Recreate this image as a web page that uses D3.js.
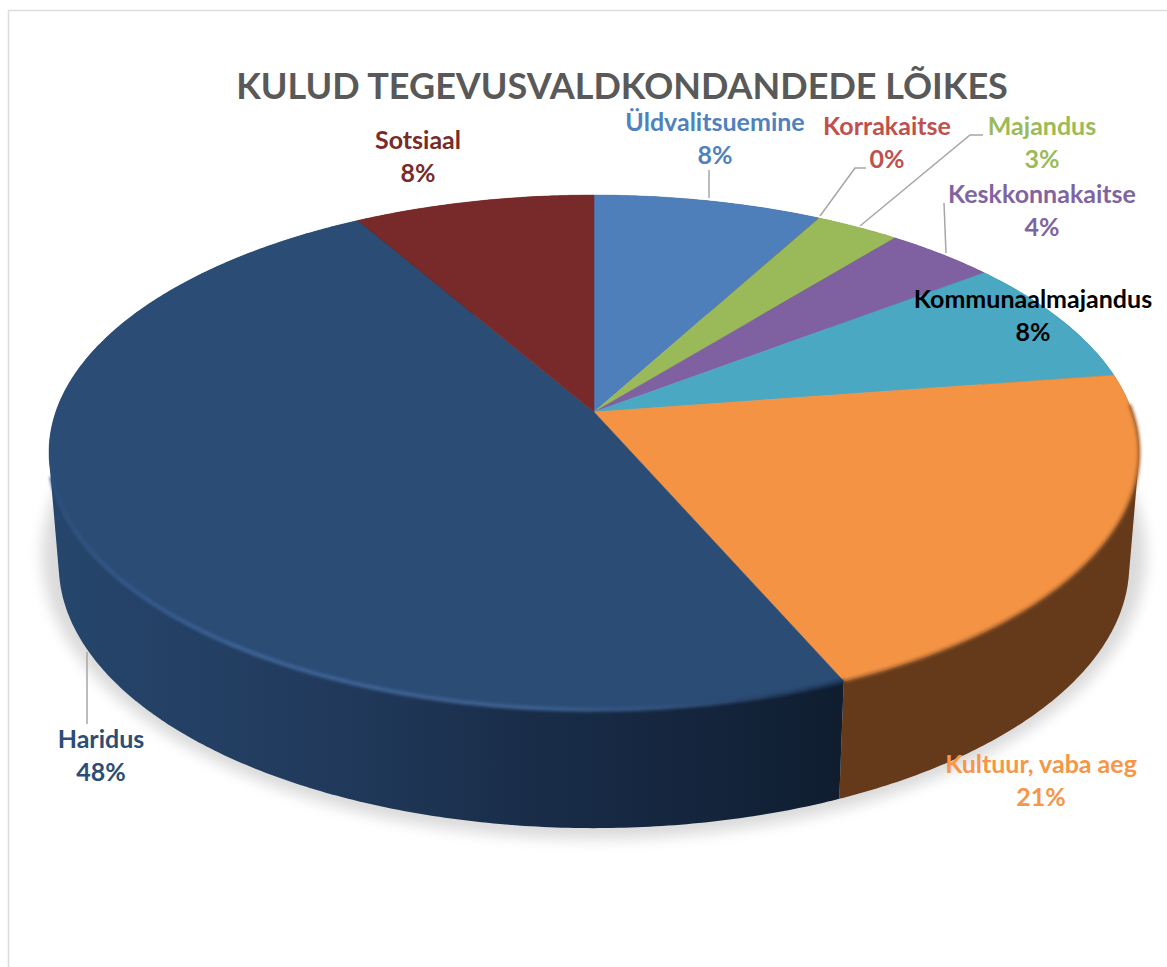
<!DOCTYPE html>
<html>
<head>
<meta charset="utf-8">
<script src="https://cdn.jsdelivr.net/npm/d3@7"></script>
<style>
html,body{margin:0;padding:0;background:#fff;overflow:hidden}
svg{display:block}
text{font-family:Lato,"Open Sans",sans-serif;font-weight:700}
</style>
</head>
<body>
<svg id="c" width="1167" height="967"></svg>
<script>
// data
const categories = ["Üldvalitsuemine","Korrakaitse","Majandus","Keskkonnakaitse","Kommunaalmajandus","Kultuur, vaba aeg","Haridus","Sotsiaal"];
const values = [7.88,0.02,2.9,3.8,8.0,20.9,48.2,8.3];
const percentLabels = ["8%","0%","3%","4%","8%","21%","48%","8%"];
const titleText = "KULUD TEGEVUSVALDKONDANDEDE LÕIKES";

// styles
const faceColors = ["#4e7fba","#c0504d","#9aba59","#7f60a0","#4aa8c3","#f39343","#2b4c75","#772a29"];
const sideColors = ["#2f4d70","#73302e","#5d7035","#4c3a60","#2c6575","#643a1a","#1f3555","#471a19"];
const labelColors = ["#4f81bd","#c0504d","#9bbb59","#8064a2","#000000","#f79646","#2c4d75","#772c2a"];
const labelX = [715,887,1042,1042,1033,1041,101,418];
const labelY = [131,135,135,203,308,773,748,149];
const lineGap = 33;
const leaders = [
  [[709,198],[709,170]],
  [[820,216],[855,168],[866,168]],
  [[860,226],[970,135],[983,135]],
  [[946,253],[944,203]],
  null,null,
  [[87,652],[87,724]],
  null
];

const svg = d3.select("#c");
const defs = svg.append("defs");
function blur(id,s){
  defs.append("filter").attr("id",id).attr("x","-10%").attr("y","-10%").attr("width","120%").attr("height","120%")
    .append("feGaussianBlur").attr("stdDeviation",s);
}
blur("b8",7); blur("b2",1.6);
function grad(id,stops){
  const g = defs.append("linearGradient").attr("id",id).attr("gradientUnits","userSpaceOnUse")
    .attr("x1",48).attr("x2",850).attr("y1",0).attr("y2",0);
  stops.forEach(s=>g.append("stop").attr("offset",s[0]).attr("stop-color",s[1]));
}
grad("navySide",[[0,"#26466c"],[0.35,"#213a5c"],[0.6,"#192d49"],[0.85,"#13233a"],[1,"#0f1d2e"]]);
grad("navyRim",[[0,"#2c4f7c"],[0.1,"#34588a"],[0.25,"#3d6497"],[0.6,"#3c6190"],[0.8,"#2e4e78"],[1,"#1a3250"]]);

// frame
svg.append("path").attr("d",d3.line()([[8.5,967],[8.5,10.5],[1167,10.5]]))
  .attr("fill","none").attr("stroke","#dcdcdc").attr("stroke-width",1.5);

// perspective projection of the pie disc
const k = 0.157;
const top0 = {x:d3.scaleLinear().domain([-1,1]).range([594-538.2,594+538.2]),
              y:d3.scaleLinear().domain([-1,1]).range([412-251,412+251])};
const bot0 = {x:d3.scaleLinear().domain([-1,1]).range([594-528.6,594+528.6]),
              y:d3.scaleLinear().domain([-1,1]).range([523.5-256.8,523.5+256.8])};
function proj(level,a){
  const X=Math.sin(a), Y=-Math.cos(a), w=1-k*Y;
  return [level.x(X/w), level.y(Y/w)];
}
function arcPts(level,a0,a1){
  const n=Math.max(2,Math.ceil((a1-a0)/0.01));
  return d3.range(n+1).map(i=>proj(level,a0+(a1-a0)*i/n));
}
const apex=[top0.x(0),top0.y(0)];
const line=d3.line();
const pie=d3.pie().sort(null).value(d=>d)(values);

// shadow
svg.append("ellipse").attr("cx",594).attr("cy",555).attr("rx",552).attr("ry",284)
  .attr("fill","#dadada").attr("filter","url(#b8)");

// sides
const order=d3.range(pie.length).sort((a,b)=>(a===6?1:0)-(b===6?1:0));
svg.append("g").selectAll("path").data(order).join("path")
  .attr("d",i=>{
    const p=pie[i];
    const hull=d3.polygonHull(arcPts(top0,p.startAngle,p.endAngle).concat(arcPts(bot0,p.startAngle,p.endAngle)));
    return line(hull)+"Z";
  })
  .attr("fill",i=>i===6?"url(#navySide)":sideColors[i]);

// top face
svg.append("g").selectAll("path").data(pie).join("path")
  .attr("d",p=>line([apex].concat(arcPts(top0,p.startAngle,p.endAngle)))+"Z")
  .attr("fill",(p,i)=>faceColors[i])
  .attr("stroke",(p,i)=>p.value<0.5?"none":faceColors[i]).attr("stroke-width",0.5);

// bevel along the front rim
const rim=svg.append("g").attr("fill","none");
rim.append("path").attr("d",line(arcPts(top0,pie[5].startAngle+0.12,pie[5].endAngle)))
  .attr("stroke","#a86430").attr("stroke-width",3).attr("filter","url(#b2)");
rim.append("path").attr("d",line(arcPts(top0,pie[6].startAngle,pie[6].endAngle-1.3)))
  .attr("stroke","url(#navyRim)").attr("stroke-width",4).attr("filter","url(#b2)");

// leaders
svg.append("g").selectAll("path").data(leaders.filter(d=>d)).join("path")
  .attr("d",d=>line(d)).attr("fill","none").attr("stroke","#a6a6a6").attr("stroke-width",1.5);

// title
svg.append("text").attr("x",622).attr("y",99).attr("text-anchor","middle")
  .attr("font-size",36).attr("fill","#595959").text(titleText);

// labels
const lab=svg.append("g").selectAll("text").data(categories).join("text")
  .attr("text-anchor","middle").attr("font-size",25)
  .attr("fill",(d,i)=>labelColors[i]);
lab.append("tspan").attr("x",(d,i)=>labelX[i]).attr("y",(d,i)=>labelY[i]).text(d=>d);
lab.append("tspan").attr("x",(d,i)=>labelX[i]).attr("y",(d,i)=>labelY[i]+lineGap).text((d,i)=>percentLabels[i]);
</script>
</body>
</html>
